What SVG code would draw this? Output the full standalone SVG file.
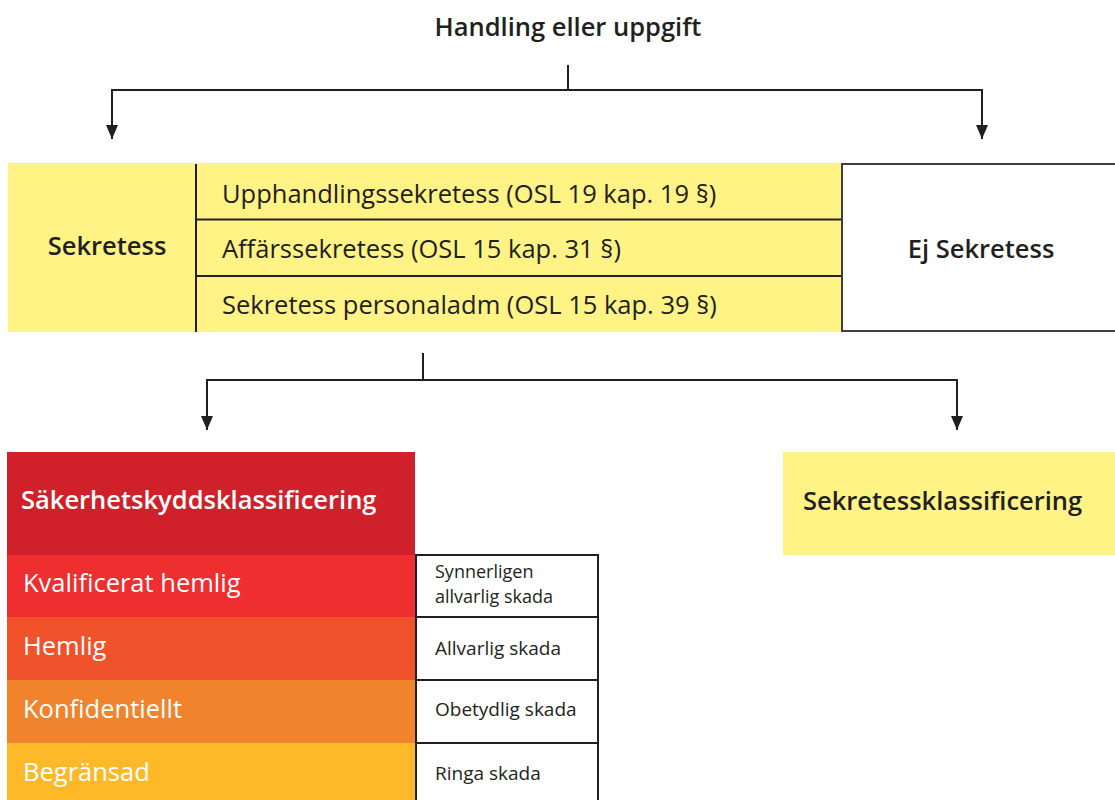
<svg xmlns="http://www.w3.org/2000/svg" width="1115" height="800" viewBox="0 0 1115 800">
<defs>
<marker id="arr" viewBox="0 0 14 12" refX="14" refY="6" markerWidth="14" markerHeight="12" markerUnits="userSpaceOnUse" orient="auto">
<path d="M0,0 L14,6 L0,12 Z" fill="#231F20"/>
</marker>
<style>
text{font-family:"Open Sans","Noto Sans",sans-serif;fill:#231F20}
.b{font-weight:600}
.w{fill:#fff}
.ln{stroke:#231F20;stroke-width:2;fill:none}
.yel{fill:#FFF385}
.cell{fill:#fff;stroke:#231F20;stroke-width:2}
</style>
</defs>
<rect width="1115" height="800" fill="#fff"/>
<g id="title"><text x="568" y="36" text-anchor="middle" font-size="25.5" class="b">Handling eller uppgift</text></g>
<g id="connectors">
<path class="ln" d="M568,65 V90"/>
<path class="ln" d="M112,90 H982"/>
<path class="ln" d="M112,89 V139" marker-end="url(#arr)"/>
<path class="ln" d="M982,89 V139" marker-end="url(#arr)"/>
<path class="ln" d="M423,353 V380"/>
<path class="ln" d="M207,380 H957"/>
<path class="ln" d="M207,379 V430" marker-end="url(#arr)"/>
<path class="ln" d="M957,379 V430" marker-end="url(#arr)"/>
</g>
<g id="sekretess">
<rect class="yel" x="8" y="163" width="833" height="169"/>
<text x="107" y="255" text-anchor="middle" font-size="25.5" class="b">Sekretess</text>
<path class="ln" d="M196,164 V332 M196,219.5 H841 M196,276 H841"/>
<text x="222" y="203" font-size="25.5">Upphandlingssekretess (OSL 19 kap. 19 §)</text>
<text x="222" y="258" font-size="25.5">Affärssekretess (OSL 15 kap. 31 §)</text>
<text x="222" y="314" font-size="25.5">Sekretess personaladm (OSL 15 kap. 39 §)</text>
</g>
<g id="ej-sekretess">
<rect x="842" y="164" width="280" height="167" fill="#fff" stroke="#3f3f3f" stroke-width="2"/>
<text x="981" y="258" text-anchor="middle" font-size="25.5" class="b">Ej Sekretess</text>
</g>
<g id="sakerhet">
<rect x="7" y="452" width="408" height="103" fill="#D0212B"/>
<text x="21" y="509" font-size="25.5" class="b w">Säkerhetskyddsklassificering</text>
</g>
<g id="kvalificerat">
<rect x="7" y="555" width="408" height="62" fill="#EE2E2F"/>
<text x="23" y="592" font-size="25.5" class="w">Kvalificerat hemlig</text>
<rect class="cell" x="416" y="555" width="182" height="62"/>
<text x="435" y="578" font-size="18">Synnerligen</text>
<text x="435" y="603" font-size="18">allvarlig skada</text>
</g>
<g id="hemlig">
<rect x="7" y="617" width="408" height="63" fill="#F0522B"/>
<text x="23" y="655" font-size="25.5" class="w">Hemlig</text>
<rect class="cell" x="416" y="617" width="182" height="63"/>
<text x="435" y="655" font-size="19">Allvarlig skada</text>
</g>
<g id="konfidentiellt">
<rect x="7" y="680" width="408" height="63" fill="#F1832C"/>
<text x="23" y="718" font-size="25.5" class="w">Konfidentiellt</text>
<rect class="cell" x="416" y="680" width="182" height="63"/>
<text x="435" y="716" font-size="19">Obetydlig skada</text>
</g>
<g id="begransad">
<rect x="7" y="743" width="408" height="57" fill="#FDB928"/>
<text x="23" y="781" font-size="25.5" class="w">Begränsad</text>
<rect class="cell" x="416" y="743" width="182" height="60"/>
<text x="435" y="780" font-size="19">Ringa skada</text>
</g>
<g id="sekretessklassificering">
<rect class="yel" x="783" y="452" width="332" height="103"/>
<text x="803" y="510" font-size="25.5" class="b">Sekretessklassificering</text>
</g>
</svg>
